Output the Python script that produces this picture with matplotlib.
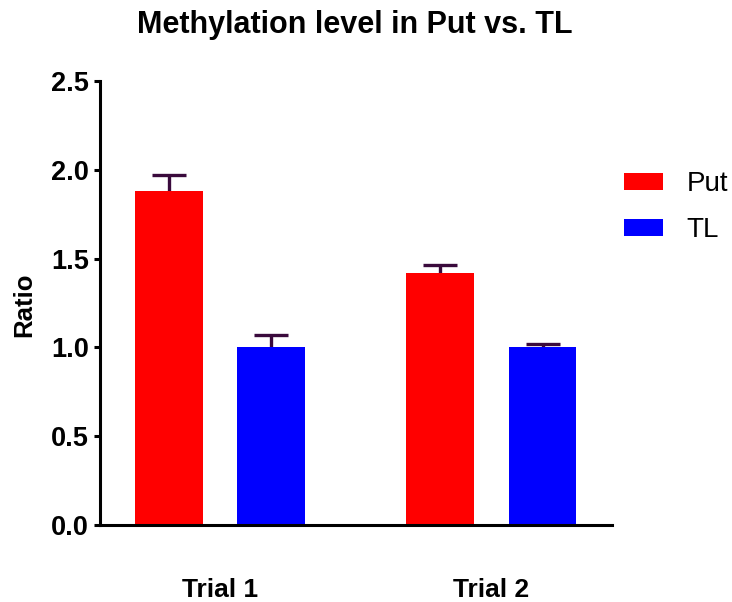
import matplotlib
matplotlib.use("Agg")
import matplotlib.pyplot as plt
import numpy as np

plt.rcParams['font.family'] = ['Liberation Sans', 'DejaVu Sans']

categories = ["Trial 1", "Trial 2"]
series_names = ["Put", "TL"]
put_values = [1.88, 1.42]
put_errors = [0.09, 0.045]
tl_values = [1.0, 1.0]
tl_errors = [0.07, 0.02]
yticks = [0.0, 0.5, 1.0, 1.5, 2.0, 2.5]

fig = plt.figure(figsize=(7.32, 6.02), dpi=100)
ax = fig.add_axes([100/732, 1-525/602, 512/732, (525-81)/602])

x = np.arange(len(categories))
w = 0.25
off = 0.188
ecol = '#3a0a3c'
ekw = dict(elinewidth=2.4, capthick=2.4, ecolor=ecol, zorder=1)
ax.bar(x - off, put_values, w, color='#ff0000', label=series_names[0],
       yerr=[put_errors, put_errors], capsize=12, error_kw=ekw, zorder=3)
ax.bar(x + off, tl_values, w, color='#0000ff', label=series_names[1],
       yerr=[tl_errors, tl_errors], capsize=12, error_kw=ekw, zorder=3)

ax.set_xlim(-0.442, 1.444)
ax.set_ylim(0, 2.5)
ax.set_yticks(yticks)
ax.set_yticklabels([f"{v:.1f}" for v in yticks], fontsize=19.5, fontweight='bold')
ax.set_xticks(x)
ax.set_xticklabels(categories, fontsize=19, fontweight='bold')
ax.tick_params(axis='x', length=0, pad=38)
ax.tick_params(axis='y', length=4, width=2.2, pad=4)
for s in ['top', 'right']:
    ax.spines[s].set_visible(False)
for s in ['left', 'bottom']:
    ax.spines[s].set_linewidth(2.2)
    ax.spines[s].set_zorder(4)

fig.text(24/732, 1-305/602, "Ratio", rotation=90, ha='center', va='center',
         fontsize=18.5, fontweight='bold')
fig.text(355/732, 1-25/602, "Methylation level in Put vs. TL", ha='center', va='center',
         fontsize=22, fontweight='bold')

leg = fig.legend(loc='upper left', bbox_to_anchor=(624/732, 1-171/602), frameon=False,
                 fontsize=20, handlelength=1.4, handleheight=0.58, labelspacing=0.72,
                 handletextpad=0.86, borderpad=0, borderaxespad=0)

fig.savefig("out.png", dpi=100)
